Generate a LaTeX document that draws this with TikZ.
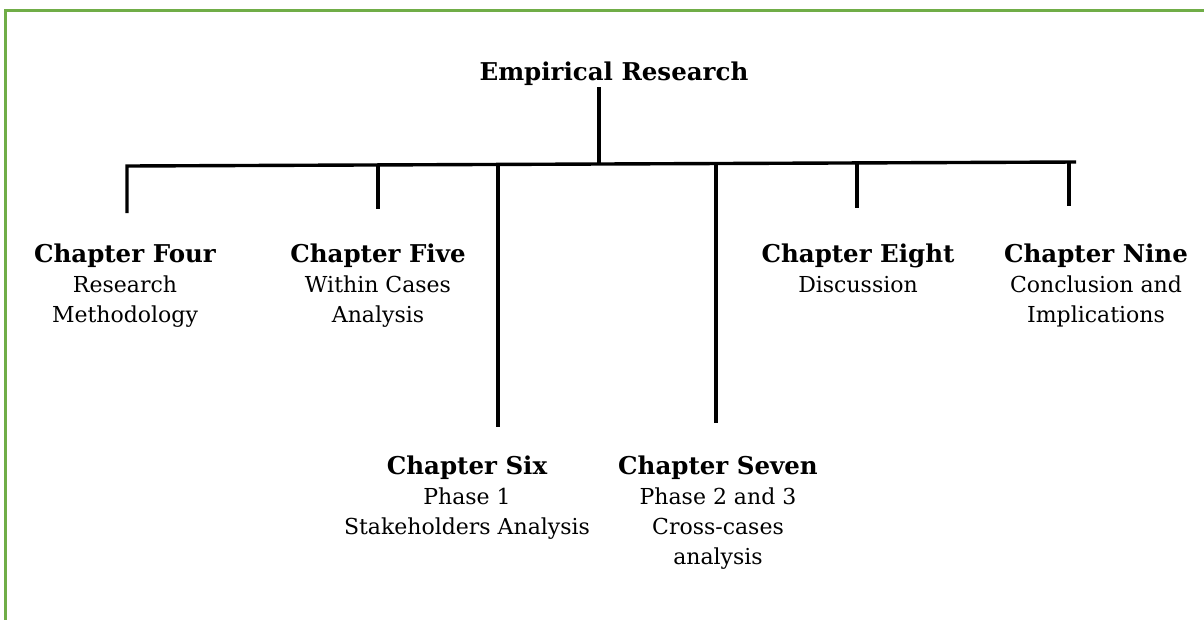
\documentclass[tikz,border=0pt]{standalone}
\usepackage{fontspec}
\setmainfont{DejaVu Serif}
\definecolor{framegreen}{HTML}{70AD47}
% bold heading line inside a chapter label
\newcommand{\chaphead}[1]{{\fontsize{24.5}{30}\selectfont\bfseries #1}}
\begin{document}
\begin{tikzpicture}[x=1pt,y=-1pt,
  frame/.style={draw=framegreen,line width=3pt},
  link/.style={draw=black,line width=3.4pt},
  chap/.style={align=center,inner sep=0pt,anchor=base,
    font=\fontsize{22}{30}\selectfont},
  head/.style={chap,font=\fontsize{24.5}{30}\selectfont\bfseries}]
\useasboundingbox (0,0) rectangle (1204,619);
% outer frame (runs off the right and bottom edges)
\draw[frame] (5.5,640) -- (5.5,10.5) -- (1230,10.5);

% text nodes (anchored at the baseline of their last line)
\node[head] (root) at (614,80) {Empirical Research};
\node[chap] (c4) at (125,322) {\chaphead{Chapter Four}\\Research\\Methodology};
\node[chap] (c5) at (378,322) {\chaphead{Chapter Five}\\Within Cases\\Analysis};
\node[chap] (c6) at (467,534) {\chaphead{Chapter Six}\\Phase 1\\Stakeholders Analysis};
\node[chap] (c7) at (718,564) {\chaphead{Chapter Seven}\\Phase 2 and 3\\Cross-cases\\analysis};
\node[chap] (c8) at (858,292) {\chaphead{Chapter Eight}\\Discussion};
\node[chap] (c9) at (1096,322) {\chaphead{Chapter Nine}\\Conclusion and\\Implications};

% junctions on the horizontal bar
\coordinate (rt) at (599,87);
\coordinate (br) at (599,164);
\coordinate (b4) at (127,166);
\coordinate (b5) at (378,165);
\coordinate (b6) at (498,165);
\coordinate (b7) at (716,163);
\coordinate (b8) at (857,162.5);
\coordinate (b9) at (1069,162);
\coordinate (be) at (1076,162);
% free ends of the branch stems
\coordinate (t4) at (127,213);
\coordinate (t5) at (378,209);
\coordinate (t6) at (498,427);
\coordinate (t7) at (716,423);
\coordinate (t8) at (857,208);
\coordinate (t9) at (1069,206);

% connectors
\draw[link] (rt) -- (br);
\draw[link] (t4) -- (b4) -- (be);
\foreach \k in {5,6,7,8,9} \draw[link] (b\k) -- (t\k);
\end{tikzpicture}
\end{document}
